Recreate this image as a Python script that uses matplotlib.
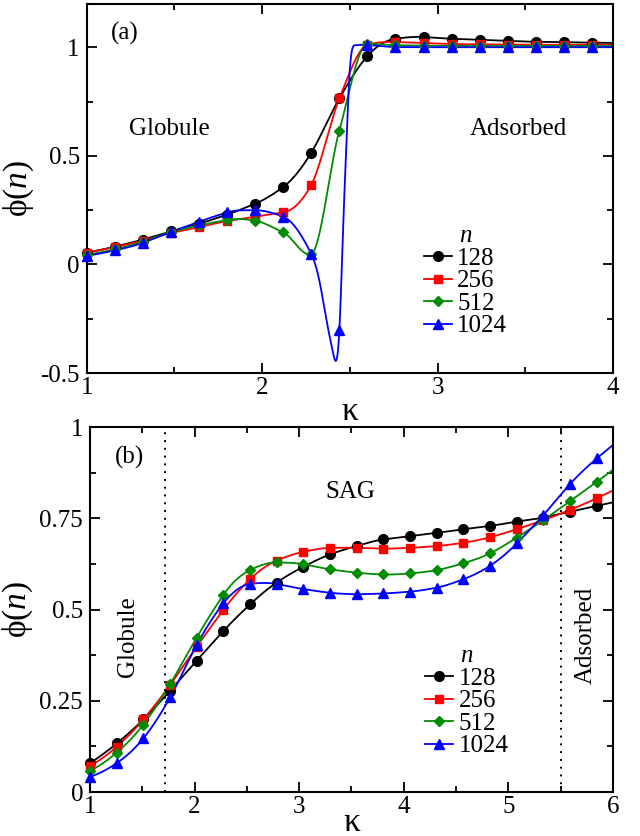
import numpy as np
import matplotlib
matplotlib.use("Agg")
import matplotlib.pyplot as plt
from matplotlib.lines import Line2D
from matplotlib.ticker import MultipleLocator

plt.rcParams['font.family'] = ['Liberation Serif', 'DejaVu Serif']
plt.rcParams['mathtext.fontset'] = 'custom'
plt.rcParams['mathtext.rm'] = 'Liberation Serif'
plt.rcParams['mathtext.it'] = 'Liberation Serif:italic'

# ---------------- data ----------------
series_names = ['128', '256', '512', '1024']
colors = ['#000000', '#ff0000', '#008c00', '#0000ff']
markers = ['o', 's', 'D', '^']

kappa_a = [1.00, 1.16, 1.32, 1.48, 1.64, 1.80, 1.96, 2.12, 2.28, 2.44,
           2.60, 2.76, 2.92, 3.08, 3.24, 3.40, 3.56, 3.72, 3.88]
phi_a_128 = [0.055, 0.082, 0.115, 0.152, 0.188, 0.230, 0.280, 0.357, 0.515, 0.765,
             0.960, 1.040, 1.048, 1.040, 1.035, 1.030, 1.026, 1.024, 1.022]
phi_a_256 = [0.055, 0.080, 0.110, 0.145, 0.172, 0.200, 0.220, 0.240, 0.367, 0.765,
             1.012, 1.025, 1.020, 1.016, 1.014, 1.013, 1.012, 1.012, 1.012]
phi_a_512 = [0.045, 0.070, 0.105, 0.150, 0.180, 0.205, 0.202, 0.148, 0.048, 0.617,
             1.016, 1.010, 1.008, 1.008, 1.007, 1.007, 1.007, 1.007, 1.007]
phi_a_1024 = [0.040, 0.065, 0.100, 0.150, 0.197, 0.240, 0.250, 0.220, 0.048, -0.304,
              1.012, 1.002, 1.001, 1.001, 1.001, 1.001, 1.001, 1.001, 1.001]

# the n=1024 curve of panel (a) has extra resolution near the dip
curve_kappa_a_1024 = [1.00, 1.16, 1.32, 1.48, 1.64, 1.80, 1.96, 2.12, 2.28, 2.33,
                      2.37, 2.405, 2.44, 2.47, 2.50, 2.53, 2.60, 2.76, 2.92, 3.08,
                      3.24, 3.40, 3.56, 3.72, 3.88]
curve_phi_a_1024 = [0.040, 0.065, 0.100, 0.150, 0.197, 0.240, 0.250, 0.220, 0.048, -0.090,
                    -0.270, -0.410, -0.304, 0.350, 0.900, 1.010, 1.012, 1.002, 1.001, 1.001,
                    1.001, 1.001, 1.001, 1.001, 1.001]

kappa_b = [1.000, 1.255, 1.510, 1.765, 2.020, 2.275, 2.530, 2.785, 3.040, 3.295,
           3.550, 3.805, 4.060, 4.315, 4.570, 4.825, 5.080, 5.335, 5.590, 5.845]
phi_b_128 = [0.079, 0.133, 0.199, 0.277, 0.360, 0.441, 0.514, 0.574, 0.617, 0.651,
             0.674, 0.692, 0.701, 0.710, 0.720, 0.729, 0.741, 0.752, 0.768, 0.784]
phi_b_256 = [0.071, 0.124, 0.199, 0.293, 0.398, 0.499, 0.583, 0.634, 0.658, 0.669,
             0.669, 0.667, 0.669, 0.674, 0.683, 0.698, 0.720, 0.745, 0.773, 0.805]
phi_b_512 = [0.058, 0.108, 0.185, 0.295, 0.423, 0.540, 0.608, 0.629, 0.624, 0.610,
             0.601, 0.596, 0.599, 0.608, 0.627, 0.654, 0.697, 0.745, 0.797, 0.850]
phi_b_1024 = [0.042, 0.079, 0.147, 0.259, 0.403, 0.517, 0.570, 0.570, 0.556, 0.546,
              0.542, 0.544, 0.549, 0.560, 0.583, 0.620, 0.681, 0.759, 0.844, 0.914]

boundaries_b = [1.72, 5.5]

ytick_a = [-0.5, 0, 0.5, 1]
ytick_a_labels = ['-0.5', '0', '0.5', '1']
xtick_a = [1, 2, 3, 4]
ytick_b = [0, 0.25, 0.5, 0.75, 1]
ytick_b_labels = ['0', '0.25', '0.5', '0.75', '1']
xtick_b = [1, 2, 3, 4, 5, 6]


def akima(x, y, xs):
    x = np.asarray(x, float)
    y = np.asarray(y, float)
    n = len(x)
    m = np.diff(y) / np.diff(x)
    mm = np.empty(n + 3)
    mm[2:n + 1] = m
    mm[1] = 2 * m[0] - m[1]
    mm[0] = 3 * m[0] - 2 * m[1]
    mm[n + 1] = 2 * m[-1] - m[-2]
    mm[n + 2] = 3 * m[-1] - 2 * m[-2]
    t = np.empty(n)
    for i in range(n):
        w1 = abs(mm[i + 3] - mm[i + 2])
        w2 = abs(mm[i + 1] - mm[i])
        if w1 + w2 < 1e-12:
            t[i] = 0.5 * (mm[i + 1] + mm[i + 2])
        else:
            t[i] = (w1 * mm[i + 1] + w2 * mm[i + 2]) / (w1 + w2)
    idx = np.clip(np.searchsorted(x, xs) - 1, 0, n - 2)
    h = x[idx + 1] - x[idx]
    s = (xs - x[idx]) / h
    h00 = 2 * s ** 3 - 3 * s ** 2 + 1
    h10 = s ** 3 - 2 * s ** 2 + s
    h01 = -2 * s ** 3 + 3 * s ** 2
    h11 = s ** 3 - s ** 2
    return h00 * y[idx] + h10 * h * t[idx] + h01 * y[idx + 1] + h11 * h * t[idx + 1]


fig = plt.figure(figsize=(6.4, 8.36), dpi=100)
ax_a = fig.add_axes([0.1355, 0.5538, 0.8223, 0.4414])
ax_b = fig.add_axes([0.1406, 0.0526, 0.8172, 0.4366])

FS = 18
LFS = 24


def style(ax):
    for s in ax.spines.values():
        s.set_linewidth(1.5)
    ax.tick_params(which='both', direction='in', top=True, right=True,
                   labelsize=FS, width=1.3)
    ax.tick_params(which='major', length=7)
    ax.tick_params(which='minor', length=4)
    ax.tick_params(axis='x', pad=3)
    ax.tick_params(axis='y', pad=5)


def draw(ax, kap, data, xmax, curves=None):
    handles = []
    for k, (vals, col, mk, name) in enumerate(zip(data, colors, markers, series_names)):
        ck, cv = (kap, vals)
        if curves is not None and curves[k] is not None:
            ck, cv = curves[k]
        xs = np.linspace(ck[0], xmax, 1500)
        ys = akima(ck, cv, xs)
        ax.plot(xs, ys, color=col, lw=1.3, zorder=2)
        ms = 7 if mk in ('o', '^') else (6 if mk == 's' else 5.5)
        ax.plot(kap, vals, linestyle='none', marker=mk, color=col,
                markersize=ms, zorder=3, clip_on=False)
        handles.append(Line2D([], [], color=col, lw=1.3, marker=mk,
                              markersize=ms, label=name))
    return handles


leg_kw = dict(frameon=False, fontsize=FS, title='$n$', title_fontsize=FS,
              handlelength=1.15, handletextpad=0.2, labelspacing=0.0,
              borderpad=0.0, borderaxespad=0, loc='upper left')

# ---------- panel (a) ----------
h = draw(ax_a, kappa_a, [phi_a_128, phi_a_256, phi_a_512, phi_a_1024], 4.0,
         curves=[None, None, None, (curve_kappa_a_1024, curve_phi_a_1024)])
ax_a.set_xlim(1, 4)
ax_a.set_ylim(-0.5, 1.2)
ax_a.set_xticks(xtick_a)
ax_a.set_xticklabels([str(t) for t in xtick_a])
ax_a.set_yticks(ytick_a)
ax_a.set_yticklabels(ytick_a_labels)
ax_a.xaxis.set_minor_locator(MultipleLocator(0.5))
ax_a.yaxis.set_minor_locator(MultipleLocator(0.25))
style(ax_a)
ax_a.set_xlabel('κ', fontsize=LFS, labelpad=-2)
ax_a.set_ylabel('ϕ($n$)', fontsize=LFS, labelpad=3)
ax_a.text(0.073, 0.921, '(a)', transform=ax_a.transAxes, fontsize=FS,
          ha='center', va='center')
ax_a.text(0.157, 0.661, 'Globule', transform=ax_a.transAxes, fontsize=FS,
          ha='center', va='center')
ax_a.text(0.820, 0.661, 'Adsorbed', transform=ax_a.transAxes, fontsize=FS,
          ha='center', va='center')
ax_a.legend(handles=h, bbox_to_anchor=(0.64, 0.400), **leg_kw)

# ---------- panel (b) ----------
h = draw(ax_b, kappa_b, [phi_b_128, phi_b_256, phi_b_512, phi_b_1024], 6.0)
for bnd in boundaries_b:
    ax_b.axvline(bnd, color='black', lw=1.4, linestyle=(0, (1, 3)), zorder=1)
ax_b.set_xlim(1, 6)
ax_b.set_ylim(0, 1)
ax_b.set_xticks(xtick_b)
ax_b.set_xticklabels([str(t) for t in xtick_b])
ax_b.set_yticks(ytick_b)
ax_b.set_yticklabels(ytick_b_labels)
ax_b.xaxis.set_minor_locator(MultipleLocator(0.5))
ax_b.yaxis.set_minor_locator(MultipleLocator(0.125))
style(ax_b)
ax_b.set_xlabel('κ', fontsize=LFS, labelpad=-8)
ax_b.set_ylabel('ϕ($n$)', fontsize=LFS, labelpad=3)
ax_b.text(0.0765, 0.918, '(b)', transform=ax_b.transAxes, fontsize=FS,
          ha='center', va='center')
ax_b.text(0.497, 0.822, 'SAG', transform=ax_b.transAxes, fontsize=FS,
          ha='center', va='center')
ax_b.text(0.0727, 0.425, 'Globule', transform=ax_b.transAxes, fontsize=FS,
          ha='center', va='center', rotation=90)
ax_b.text(0.947, 0.43, 'Adsorbed', transform=ax_b.transAxes, fontsize=FS,
          ha='center', va='center', rotation=90)
ax_b.legend(handles=h, bbox_to_anchor=(0.64, 0.402), **leg_kw)

fig.savefig('out.png', dpi=100)
